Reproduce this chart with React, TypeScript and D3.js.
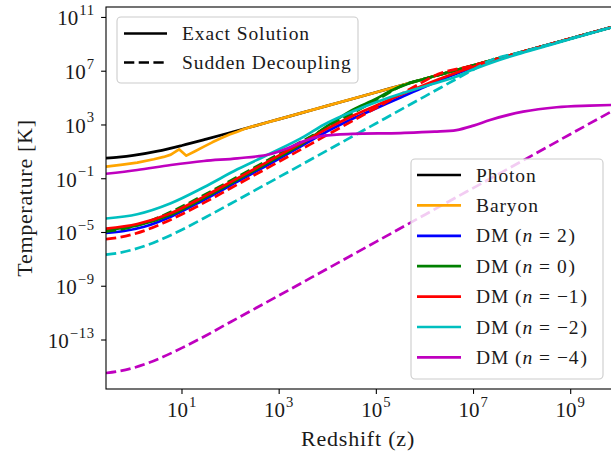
import React from 'react';
import * as d3 from 'd3';

// ---- figure geometry ----
const W = 611;
const H = 451;
const PLOT = { left: 106, top: 7, right: 612, bottom: 389 };

// ---- axis limits and ticks ----
const zLimits = [0.273, 7.08e9];
const tLimits = [2.26e-17, 6.0e11];
const xTickValues = [1e1, 1e3, 1e5, 1e7, 1e9];
const xTickExponents = ['1', '3', '5', '7', '9'];
const yTickValues = [1e-13, 1e-9, 1e-5, 1e-1, 1e3, 1e7, 1e11];
const yTickExponents = ['\u221213', '\u22129', '\u22125', '\u22121', '3', '7', '11'];

// ---- temperature histories: redshift z and temperature T [K] ----
const photonZ = [0.273, 0.5, 1, 3.16, 10, 31.6, 100, 316, 1e3, 3.16e3, 1e4, 3.16e4, 1e5, 3.16e5, 1e6, 3.16e6, 1e7, 3.16e7, 1e8, 3.16e8, 1e9, 3.16e9, 7.08e9];
const photonT = [3.47, 4.09, 5.45, 11.3, 30.0, 88.8, 275, 864, 2.73e3, 8.61e3, 2.73e4, 8.61e4, 2.73e5, 8.61e5, 2.73e6, 8.61e6, 2.73e7, 8.61e7, 2.73e8, 8.61e8, 2.73e9, 8.61e9, 1.93e10];

const baryonZ = [0.273, 0.6, 1.2, 2.63, 4.2, 5.9, 8.7, 12.3, 19, 28.2, 42, 63, 95, 138, 190, 251, 1e3, 1e4, 1e5, 1e6, 1e7, 1e8, 1e9, 7.08e9];
const baryonT = [0.79, 1.12, 1.57, 2.82, 4.2, 6.2, 15.5, 5.2, 11.5, 24.5, 51, 102, 195, 316, 500, 687, 2.73e3, 2.73e4, 2.73e5, 2.73e6, 2.73e7, 2.73e8, 2.73e9, 1.93e10];

// DM n = 2, exact
const dmN2Z = [0.273, 0.646, 1.66, 5.89, 28.2, 138, 676, 3236, 1e4, 3.16e4, 1e5, 3.16e5, 1e6, 3.16e6, 1e7, 3.16e7, 1e8, 1e9, 7.08e9];
const dmN2T = [9.3e-6, 1.29e-5, 2.69e-5, 1.51e-4, 2.63e-3, 0.0603, 1.41, 35.5, 355, 2.82e3, 1.78e4, 1.12e5, 7.08e5, 3.98e6, 2.0e7, 7.59e7, 2.63e8, 2.69e9, 1.95e10];

// DM n = 0, exact
const dmN0Z = [0.273, 1.2, 5.89, 28.2, 138, 676, 3236, 1e4, 3.16e4, 1e5, 2.0e5, 3.98e5, 1e6, 1e7, 1e9, 7.08e9];
const dmN0T = [1.51e-5, 3.31e-5, 2.09e-4, 3.63e-3, 0.0832, 2.0, 47.9, 891, 1.26e4, 8.91e4, 3.55e5, 1.0e6, 2.73e6, 2.73e7, 2.73e9, 1.93e10];

// DM n = 0, sudden decoupling
const dmN0SdZ = [0.273, 0.5, 1, 2, 4, 10, 30, 100, 1e3, 1e4, 1e5, 3.9e5, 1e6, 1e7, 1e9, 7.08e9];
const dmN0SdT = [1.17e-5, 1.58e-5, 2.82e-5, 6.3e-5, 1.78e-4, 8.5e-4, 6.8e-3, 0.072, 7.1, 708, 7.08e4, 1.07e6, 2.73e6, 2.73e7, 2.73e9, 1.93e10];

// DM n = -1, exact
const dmM1Z = [0.273, 1.2, 5.89, 28.2, 138, 676, 3236, 1e4, 3.16e4, 1e5, 3.16e5, 1e6, 3.16e6, 1e7, 3.16e7, 1e8, 1e9, 7.08e9];
const dmM1T = [1.91e-5, 4.27e-5, 2.69e-4, 4.68e-3, 0.107, 2.51, 57.5, 562, 4.47e3, 2.82e4, 1.78e5, 1.0e6, 5.01e6, 2.14e7, 7.94e7, 2.69e8, 2.72e9, 1.95e10];

// DM n = -1, sudden decoupling
const dmM1SdZ = [0.273, 0.5, 1, 2, 4, 10, 30, 100, 1e3, 1e4, 1e5, 1e6, 1.45e6, 1e7, 1e8, 1e9, 7.08e9];
const dmM1SdT = [3.16e-6, 4.3e-6, 7.6e-6, 1.7e-5, 4.8e-5, 2.29e-4, 1.8e-3, 0.0195, 1.91, 191, 1.91e4, 1.91e6, 3.98e6, 2.73e7, 2.73e8, 2.73e9, 1.93e10];

// DM n = -2, exact
const dmM2Z = [0.273, 1.2, 5.89, 28.2, 138, 676, 3236, 8128, 3.89e4, 1.91e5, 9.33e5, 4.47e6, 9.77e6, 3.16e7, 1e8, 3.16e8, 1e9, 7.08e9];
const dmM2T = [1.1e-4, 2.29e-4, 1.51e-3, 0.0234, 0.501, 7.76, 135, 1000, 1.32e4, 1.15e5, 7.08e5, 3.98e6, 1.32e7, 6.31e7, 2.29e8, 7.59e8, 2.51e9, 1.86e10];

// DM n = -2, sudden decoupling
const dmM2SdZ = [0.273, 0.5, 1, 2, 4, 10, 30, 100, 1e3, 1e4, 1e5, 1e6, 1e7, 2.04e7, 1e8, 1e9, 7.08e9];
const dmM2SdT = [2.24e-7, 3.0e-7, 5.4e-7, 1.2e-6, 3.4e-6, 1.62e-5, 1.3e-4, 1.38e-3, 0.135, 13.5, 1.35e3, 1.35e5, 1.35e7, 5.6e7, 2.73e8, 2.73e9, 1.93e10];

// DM n = -4, exact
const dmM4Z = [0.273, 1.2, 5.89, 28.2, 138, 676, 1585, 3162, 7943, 3.16e4, 3.16e5, 1.58e6, 4.47e6, 1e7, 2.19e7, 1.05e8, 5.13e8, 2.45e9, 7.08e9];
const dmM4T = [0.234, 0.447, 1.05, 2.09, 3.31, 6.92, 20.0, 60.3, 158, 214, 251, 316, 417, 891, 2.34e3, 9.77e3, 2.09e4, 2.75e4, 3.09e4];

// DM n = -4, sudden decoupling
const dmM4SdZ = [0.273, 0.5, 1, 2, 4, 10, 30, 100, 1e3, 1e4, 1e5, 1e6, 1e7, 1e8, 1e9, 7.08e9];
const dmM4SdT = [3.5e-16, 4.8e-16, 8.5e-16, 1.9e-15, 5.4e-15, 2.6e-14, 2.0e-13, 2.2e-12, 2.1e-10, 2.1e-8, 2.1e-6, 2.1e-4, 0.021, 2.1, 214, 1.07e4];

// ---- styling ----
const COLORS = {
  photon: '#000000',
  baryon: '#ffa500',
  n2: '#0000ff',
  n0: '#008000',
  m1: '#ff0000',
  m2: '#00bfbf',
  m4: '#bf00bf',
};
const LW = 2.7;
const DASH = '10.3,4.4';
const FONT = "'Liberation Serif', 'DejaVu Serif', serif";
const FS_LEGEND = 19.5;
const FS_TICK = 21;
const FS_SUP = 14.7;
const FS_LABEL = 22;
const TEXT_COLOR = '#1a1a1a';
const textStyle = { fontFamily: FONT };

type Series = { z: number[]; t: number[]; color: string; dashed: boolean; sharp?: boolean };

const series: Series[] = [
  { z: photonZ, t: photonT, color: COLORS.photon, dashed: false },
  { z: baryonZ, t: baryonT, color: COLORS.baryon, dashed: false, sharp: true },
  { z: dmN2Z, t: dmN2T, color: COLORS.n2, dashed: false },
  { z: dmN0Z, t: dmN0T, color: COLORS.n0, dashed: false },
  { z: dmN0SdZ, t: dmN0SdT, color: COLORS.n0, dashed: true },
  { z: dmM1Z, t: dmM1T, color: COLORS.m1, dashed: false },
  { z: dmM1SdZ, t: dmM1SdT, color: COLORS.m1, dashed: true },
  { z: dmM2Z, t: dmM2T, color: COLORS.m2, dashed: false },
  { z: dmM2SdZ, t: dmM2SdT, color: COLORS.m2, dashed: true },
  { z: dmM4Z, t: dmM4T, color: COLORS.m4, dashed: false },
  { z: dmM4SdZ, t: dmM4SdT, color: COLORS.m4, dashed: true },
];

const speciesLegend = [
  { label: 'Photon', n: null as string | null, color: COLORS.photon },
  { label: 'Baryon', n: null, color: COLORS.baryon },
  { label: 'DM', n: '2', color: COLORS.n2 },
  { label: 'DM', n: '0', color: COLORS.n0 },
  { label: 'DM', n: '\u22121', color: COLORS.m1 },
  { label: 'DM', n: '\u22122', color: COLORS.m2 },
  { label: 'DM', n: '\u22124', color: COLORS.m4 },
];

const methodLegend = [
  { label: 'Exact Solution', dashed: false },
  { label: 'Sudden Decoupling', dashed: true },
];

function PowerLabel({ x, y, exp, anchor }: { x: number; y: number; exp: string; anchor: 'middle' | 'end' }) {
  return (
    <text x={x} y={y} textAnchor={anchor} fontSize={FS_TICK} fill={TEXT_COLOR} style={textStyle}>
      10
      <tspan dx={1} dy={-10.5} fontSize={FS_SUP} letterSpacing={0.8}>
        {exp}
      </tspan>
    </text>
  );
}

export default function App() {
  const x = d3.scaleLog().domain(zLimits).range([PLOT.left, PLOT.right]);
  const y = d3.scaleLog().domain(tLimits).range([PLOT.bottom, PLOT.top]);

  const smooth = d3
    .line<[number, number]>()
    .x((d) => x(d[0]))
    .y((d) => y(d[1]))
    .curve(d3.curveMonotoneX);
  const straight = d3
    .line<[number, number]>()
    .x((d) => x(d[0]))
    .y((d) => y(d[1]))
    .curve(d3.curveLinear);

  const pw = PLOT.right - PLOT.left;
  const ph = PLOT.bottom - PLOT.top;

  return (
    <svg
      width={W}
      height={H}
      viewBox={`0 0 ${W} ${H}`}
      style={{ position: 'absolute', left: 0, top: 0, background: '#fff', fontFamily: FONT }}
    >
      <defs>
        <clipPath id="plot-area">
          <rect x={PLOT.left} y={PLOT.top} width={pw} height={ph} />
        </clipPath>
      </defs>
      <rect x={0} y={0} width={W} height={H} fill="#fff" />

      {/* curves */}
      <g clipPath="url(#plot-area)">
        {series.map((s, i) => {
          const pts = s.z.map((z, j) => [z, s.t[j]] as [number, number]);
          return (
            <path
              key={i}
              d={(s.sharp ? straight(pts) : smooth(pts)) || ''}
              fill="none"
              stroke={s.color}
              strokeWidth={LW}
              strokeDasharray={s.dashed ? DASH : undefined}
              strokeLinejoin="round"
            />
          );
        })}
      </g>

      {/* frame */}
      <rect x={PLOT.left} y={PLOT.top} width={pw} height={ph} fill="none" stroke="#000" strokeWidth={1.1} />

      {/* x ticks */}
      {xTickValues.map((v, i) => (
        <g key={`xt${i}`}>
          <line x1={x(v)} x2={x(v)} y1={PLOT.bottom} y2={PLOT.bottom + 4.9} stroke="#000" strokeWidth={1.1} />
          <PowerLabel x={x(v)} y={417} exp={xTickExponents[i]} anchor="middle" />
        </g>
      ))}

      {/* y ticks */}
      {yTickValues.map((v, i) => (
        <g key={`yt${i}`}>
          <line x1={PLOT.left - 4.9} x2={PLOT.left} y1={y(v)} y2={y(v)} stroke="#000" strokeWidth={1.1} />
          <PowerLabel x={95} y={y(v) + 8} exp={yTickExponents[i]} anchor="end" />
        </g>
      ))}

      {/* axis labels */}
      <text x={(PLOT.left + 610) / 2} y={446} textAnchor="middle" fontSize={FS_LABEL} letterSpacing={0.8} fill={TEXT_COLOR} style={textStyle}>
        Redshift (z)
      </text>
      <text
        transform={`translate(32, ${(PLOT.top + PLOT.bottom) / 2}) rotate(-90)`}
        textAnchor="middle"
        fontSize={FS_LABEL}
        letterSpacing={0.7}
        fill={TEXT_COLOR}
        style={textStyle}
      >
        Temperature [K]
      </text>

      {/* method legend */}
      <g>
        <rect x={117} y={17} width={241} height={66} rx={4} fill="#fff" fillOpacity={0.8} stroke="#cccccc" strokeWidth={1.1} />
        {methodLegend.map((m, i) => {
          const ry = 33.5 + i * 29;
          return (
            <g key={`ml${i}`}>
              <line x1={124} x2={167} y1={ry} y2={ry} stroke="#000" strokeWidth={LW} strokeDasharray={m.dashed ? DASH : undefined} />
              <text x={182} y={ry + 6.3} fontSize={FS_LEGEND} letterSpacing={0.9} fill={TEXT_COLOR} style={textStyle}>
                {m.label}
              </text>
            </g>
          );
        })}
      </g>

      {/* species legend */}
      <g>
        <rect x={411} y={159} width={192} height={220} rx={4} fill="#fff" fillOpacity={0.8} stroke="#cccccc" strokeWidth={1.1} />
        {speciesLegend.map((s, i) => {
          const ry = 175 + i * 30.4;
          return (
            <g key={`sl${i}`}>
              <line x1={417} x2={461} y1={ry} y2={ry} stroke={s.color} strokeWidth={LW} />
              <text x={476} y={ry + 6.5} fontSize={FS_LEGEND} letterSpacing={0.9} fill={TEXT_COLOR} style={textStyle}>
                {s.n === null ? (
                  s.label
                ) : (
                  <>
                    {`${s.label} (`}
                    <tspan fontStyle="italic">n</tspan>
                    <tspan dx={6}>=</tspan>
                    <tspan dx={6}>{s.n}</tspan>
                    <tspan dx={1}>)</tspan>
                  </>
                )}
              </text>
            </g>
          );
        })}
      </g>
    </svg>
  );
}
